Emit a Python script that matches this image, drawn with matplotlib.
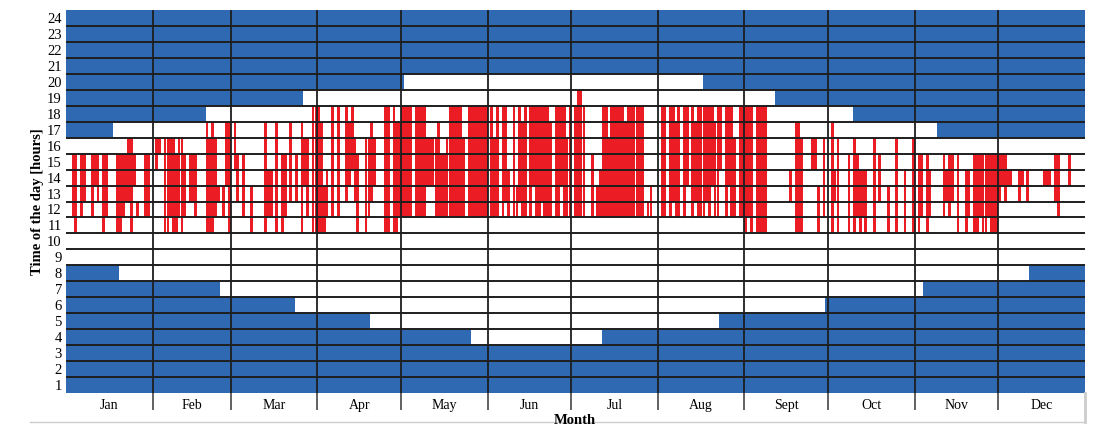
import numpy as np
import matplotlib
matplotlib.use("Agg")
import matplotlib.pyplot as plt
from matplotlib.lines import Line2D

plt.rcParams['font.family'] = ['Liberation Serif', 'DejaVu Serif']

# Months
month_names = ['Jan', 'Feb', 'Mar', 'Apr', 'May', 'Jun', 'Jul', 'Aug', 'Sept', 'Oct', 'Nov', 'Dec']
month_days = [31, 28, 31, 30, 31, 30, 31, 31, 30, 31, 30, 31]

# daylight per hour row: first and last day of year (0-based) that is light
sun_hours = [4, 5, 6, 7, 8, 9, 10, 11, 12, 13, 14, 15, 16, 17, 18, 19, 20]
sun_from = [145, 109, 82, 55, 19, 0, 0, 0, 0, 0, 0, 0, 0, 17, 50, 85, 121]
sun_to = [192, 234, 272, 307, 345, 365, 365, 365, 365, 365, 365, 365, 365, 312, 282, 254, 228]

# red hours: (day of month, first hour, last hour)
red_jan = [(3, 12, 15), (4, 11, 15), (6, 12, 15), (7, 13, 15), (10, 12, 15), (11, 14, 15),
           (12, 13, 15), (14, 11, 15), (15, 12, 15), (19, 11, 15), (20, 11, 15), (21, 12, 15),
           (22, 13, 15), (23, 13, 16), (24, 11, 16), (25, 14, 15), (26, 12, 12), (29, 12, 15),
           (30, 12, 15)]
red_feb = [(2, 15, 16), (3, 16, 16), (5, 11, 16), (6, 11, 16), (7, 12, 16), (8, 11, 16),
           (9, 11, 15), (10, 12, 16), (11, 11, 16), (12, 12, 15), (14, 13, 15), (15, 13, 15),
           (16, 12, 15), (20, 11, 17), (21, 11, 16), (22, 11, 17), (23, 12, 16), (24, 13, 13),
           (26, 12, 13), (27, 14, 17), (28, 11, 17)]
red_mar = [(2, 15, 17), (3, 13, 15), (5, 12, 15), (8, 11, 13), (13, 11, 17), (14, 12, 14),
           (15, 12, 14), (17, 11, 17), (19, 11, 15), (20, 12, 15), (22, 13, 17), (24, 13, 15),
           (26, 11, 17), (27, 14, 16), (28, 12, 16), (30, 11, 18), (31, 11, 18)]
red_apr = [(1, 11, 18), (2, 11, 17), (3, 11, 13), (4, 12, 14), (6, 12, 18), (8, 12, 18),
           (11, 13, 18), (12, 14, 17), (13, 15, 18), (14, 13, 16), (15, 11, 15), (18, 11, 16),
           (19, 12, 16), (20, 13, 17), (21, 14, 16), (25, 11, 18), (26, 11, 18), (28, 11, 18),
           (29, 11, 17), (30, 12, 17)]
red_may = [(1, 12, 18), (2, 12, 18), (3, 12, 18), (4, 12, 18), (6, 12, 18), (7, 12, 18),
           (8, 12, 18), (9, 12, 18), (10, 14, 16), (11, 14, 16), (12, 14, 16), (13, 12, 16),
           (14, 12, 17), (15, 12, 15), (16, 12, 15), (17, 12, 16), (18, 12, 18), (19, 12, 18),
           (20, 12, 18), (21, 12, 18), (22, 12, 18), (23, 12, 16), (25, 12, 18), (26, 12, 18),
           (27, 12, 18), (28, 12, 18), (29, 12, 18), (30, 12, 18), (31, 12, 18)]
red_jun = [(2, 12, 18), (3, 12, 16), (4, 12, 18), (6, 12, 18), (7, 13, 18), (8, 12, 14),
           (10, 12, 18), (11, 12, 13), (12, 13, 18), (13, 12, 17), (14, 12, 18), (16, 12, 18),
           (17, 14, 18), (18, 12, 18), (19, 12, 18), (20, 13, 18), (21, 12, 18), (22, 12, 18),
           (23, 12, 17), (25, 12, 18), (26, 12, 18), (27, 14, 18), (28, 12, 18), (29, 12, 16),
           (30, 12, 18)]
red_jul = [(2, 12, 18), (3, 12, 19), (4, 12, 19), (5, 12, 18), (8, 12, 15), (10, 12, 13),
           (11, 12, 14), (12, 12, 18), (13, 12, 18), (14, 12, 16), (15, 12, 18), (16, 12, 18),
           (17, 12, 18), (18, 12, 18), (19, 12, 18), (20, 12, 17), (21, 12, 18), (22, 12, 18),
           (23, 12, 18), (24, 12, 18), (25, 12, 18), (26, 12, 18), (28, 12, 12), (29, 12, 13)]
red_aug = [(2, 12, 18), (3, 12, 18), (5, 12, 18), (6, 13, 18), (7, 12, 17), (8, 12, 18),
           (10, 12, 18), (11, 14, 18), (13, 12, 18), (14, 13, 17), (15, 12, 18), (16, 12, 18),
           (17, 12, 18), (18, 13, 18), (19, 12, 18), (20, 14, 18), (21, 12, 17), (22, 12, 18),
           (23, 15, 18), (25, 12, 18), (26, 14, 18), (27, 12, 18), (28, 12, 16), (30, 12, 18),
           (31, 12, 18)]
red_sep = [(1, 11, 18), (2, 12, 18), (3, 11, 18), (5, 11, 18), (6, 11, 18), (7, 11, 18),
           (8, 11, 18), (17, 13, 14), (19, 11, 17), (20, 11, 17), (21, 11, 16), (25, 15, 16),
           (26, 15, 16), (27, 11, 13), (29, 12, 16)]
red_oct = [(2, 11, 17), (3, 13, 14), (4, 11, 16), (8, 11, 15), (10, 11, 16), (11, 12, 15),
           (12, 11, 14), (13, 12, 14), (14, 11, 14), (17, 11, 16), (19, 13, 15), (22, 11, 13),
           (25, 11, 16), (28, 11, 14), (31, 11, 16)]
red_nov = [(2, 11, 15), (3, 12, 15), (5, 11, 15), (6, 12, 14), (11, 12, 15), (12, 13, 14),
           (13, 12, 15), (14, 13, 15), (16, 11, 15), (19, 11, 14), (20, 12, 14), (22, 11, 15),
           (23, 11, 15), (24, 12, 15), (25, 11, 15), (26, 11, 15), (27, 12, 15), (28, 11, 15),
           (29, 11, 15), (30, 11, 15)]
red_dec = [(1, 13, 15), (2, 14, 15), (3, 13, 15), (4, 14, 14), (5, 14, 14), (8, 13, 14),
           (9, 14, 14), (11, 13, 14), (17, 14, 14), (18, 14, 14), (19, 14, 14), (21, 13, 15),
           (22, 12, 15), (26, 14, 15)]
red_by_month = [red_jan, red_feb, red_mar, red_apr, red_may, red_jun,
                red_jul, red_aug, red_sep, red_oct, red_nov, red_dec]

blue = '#2f69b1'
red = '#ec1c24'
line_col = '#1e1e1e'

month_start = np.concatenate([[0], np.cumsum(month_days)[:-1]])
month_end = np.cumsum(month_days)
n_days = month_end[-1]

fig = plt.figure(figsize=(10.97, 4.25), dpi=100)
ax = fig.add_axes([66 / 1097, 32 / 425, (1085 - 66) / 1097, 383 / 425])

# night background, daylight in white
hours = np.arange(1, 25)
ax.barh(hours, n_days, left=0, height=1, color=blue, linewidth=0, zorder=1)
ax.barh(sun_hours, np.array(sun_to) - np.array(sun_from), left=sun_from,
        height=1, color='white', linewidth=0, zorder=1)

# red hours
for m, rows in enumerate(red_by_month):
    for day, lo, hi in rows:
        ax.bar(month_start[m] + day - 0.5, hi - lo + 1, bottom=lo - 0.5, width=0.97,
               color=red, linewidth=0, zorder=2)

# grid lines
for k in range(1, 24):
    ax.axhline(k + 0.5, color=line_col, lw=1.4, zorder=3)
for b in month_end[:-1]:
    ax.axvline(b, color=line_col, lw=1.3, zorder=3)

ax.set_xlim(0, n_days)
ax.set_ylim(0.5, 24.5)
ax.set_yticks(hours)
ax.set_yticklabels([str(h) for h in hours], fontsize=10.5)
ax.tick_params(axis='y', length=0, pad=3)

ax.set_xticks(month_end[:-1])
ax.set_xticklabels([])
ax.tick_params(axis='x', which='major', length=12, width=1.3, color='#555555', direction='out')
ax.set_xticks((month_start + month_end) / 2, minor=True)
ax.set_xticklabels(month_names, minor=True, fontsize=10)
ax.tick_params(axis='x', which='minor', length=0, pad=4)

for s in ax.spines.values():
    s.set_visible(False)

ax.set_ylabel('Time of the day [hours]', fontsize=10.5, fontweight='bold', labelpad=2)
fig.text(575 / 1097, 11 / 425, 'Month', ha='center', va='top', fontsize=10.5, fontweight='bold')

# frame remains at bottom / right
fig.add_artist(Line2D([30 / 1097, 1085 / 1097], [3 / 425, 3 / 425], color='#cccccc', lw=1))
fig.add_artist(Line2D([1085 / 1097, 1085 / 1097], [3 / 425, 32 / 425], color='#cccccc', lw=2))

fig.savefig('out.png', dpi=100)
